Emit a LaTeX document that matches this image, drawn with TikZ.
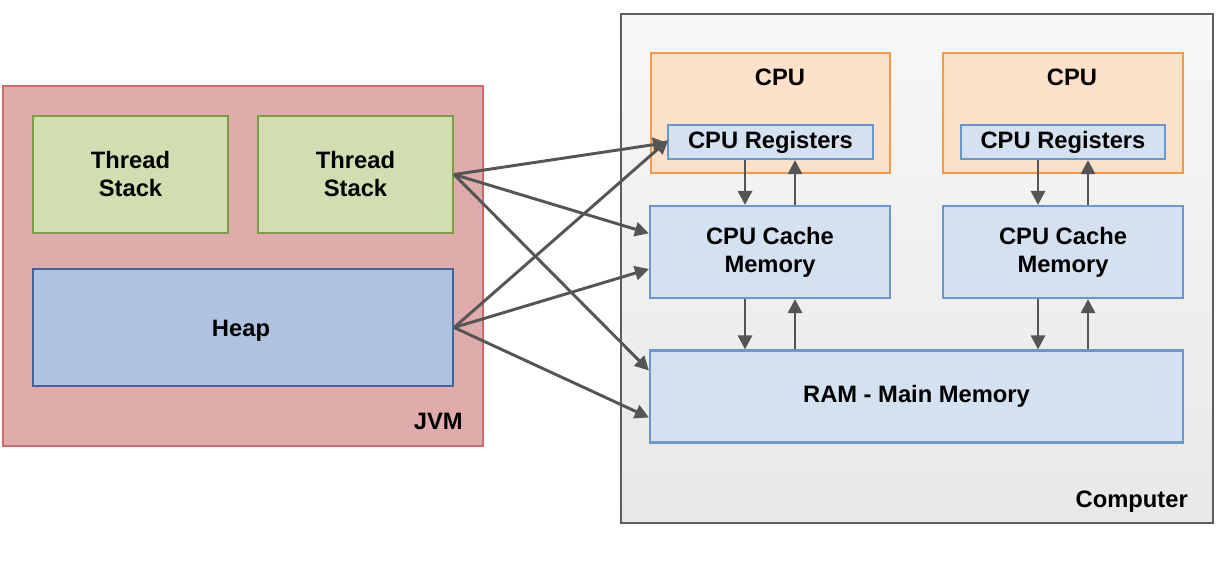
\documentclass[tikz,border=0pt]{standalone}
\usepackage{fontspec}
\setmainfont{Liberation Sans}
\usetikzlibrary{arrows.meta}
\definecolor{jvmfill}{HTML}{E0ABAB}
\definecolor{jvmdraw}{HTML}{CF6A6A}
\definecolor{tsfill}{HTML}{D1DFB0}
\definecolor{tsdraw}{HTML}{7E9B48}
\definecolor{heapfill}{HTML}{ADC3E0}
\definecolor{heapdraw}{HTML}{43669A}
\definecolor{cpufill}{HTML}{FDE1C9}
\definecolor{cpudraw}{HTML}{F7994A}
\definecolor{regfill}{HTML}{D4E1F1}
\definecolor{regdraw}{HTML}{6B97CF}
\definecolor{compdraw}{HTML}{5E5E5E}
\definecolor{arrcol}{HTML}{555555}
\tikzset{
  box/.style={draw, line width=1.6pt, inner sep=0pt, align=center,
    font=\fontsize{17.8}{21}\selectfont\bfseries},
  jvmbox/.style={box, fill=jvmfill, draw=jvmdraw},
  tsbox/.style={box, fill=tsfill, draw=tsdraw},
  heapbox/.style={box, fill=heapfill, draw=heapdraw},
  cpubox/.style={box, fill=cpufill, draw=cpudraw},
  regbox/.style={box, fill=regfill, draw=regdraw},
  compbox/.style={box, top color=white!97!black, bottom color=white!91!black, draw=compdraw, line width=1.9pt},
  lbl/.style={font=\fontsize{17.8}{21}\selectfont\bfseries, inner sep=0pt},
  arr/.style={draw=arrcol, line width=2.2pt, -{Triangle[length=10.5pt,width=10.5pt]}},
}
\begin{document}
\begin{tikzpicture}[x=0.75pt,y=-0.75pt]
\useasboundingbox (0,0) rectangle (1219,568);
% JVM side
\node[jvmbox, minimum width=360pt, minimum height=270pt] (jvm) at (243,266) {};
\node[tsbox, minimum width=146.25pt, minimum height=87.75pt] (ts1) at (130.5,174.5) {Thread\\Stack};
\node[tsbox, minimum width=146.25pt, minimum height=87.75pt] (ts2) at (355.5,174.5) {Thread\\Stack};
\node[heapbox, minimum width=315pt, minimum height=87.75pt] (heap) at (243,327.5) {};
\node[lbl] (heapl) at (241,331) {Heap};
\node[lbl, anchor=east] (jvml) at (463,421) {JVM};
% Computer side
\node[compbox, minimum width=444pt, minimum height=381.75pt] (comp) at (917,268.5) {};
\node[lbl, anchor=east] (compl) at (1188,502) {Computer};
\node[cpubox, minimum width=179.25pt, minimum height=90pt] (cpu1) at (770.5,113) {};
\node[lbl] (cpu1l) at (780,77) {CPU};
\node[regbox, minimum width=153.75pt, minimum height=25.5pt] (reg1) at (770.5,142) {CPU Registers};
\node[cpubox, minimum width=180pt, minimum height=90pt] (cpu2) at (1063,113) {};
\node[lbl] (cpu2l) at (1072,77) {CPU};
\node[regbox, minimum width=153pt, minimum height=25.5pt] (reg2) at (1063,142) {CPU Registers};
\node[regbox, minimum width=180pt, minimum height=69pt] (cache1) at (770,252) {CPU Cache\\Memory};
\node[regbox, minimum width=180pt, minimum height=69pt] (cache2) at (1063,252) {CPU Cache\\Memory};
\node[regbox, minimum width=399.75pt, minimum height=69pt] (ram) at (916.5,396.5) {RAM - Main Memory};
% vertical arrow columns
\coordinate (xa) at (745,0);
\coordinate (xb) at (795,0);
\coordinate (xc) at (1038,0);
\coordinate (xd) at (1088,0);
\draw[arr] (reg1.south -| xa) -- (cache1.north -| xa);
\draw[arr] (cache1.north -| xb) -- (reg1.south -| xb);
\draw[arr] (cache1.south -| xa) -- (ram.north -| xa);
\draw[arr] (ram.north -| xb) -- (cache1.south -| xb);
\draw[arr] (reg2.south -| xc) -- (cache2.north -| xc);
\draw[arr] (cache2.north -| xd) -- (reg2.south -| xd);
\draw[arr] (cache2.south -| xc) -- (ram.north -| xc);
\draw[arr] (ram.north -| xd) -- (cache2.south -| xd);
% diagonal arrows
\draw[arr] (ts2.east) -- ([yshift=-0.5pt]reg1.west);
\draw[arr] (ts2.east) -- ([yshift=14pt]cache1.west);
\draw[arr] (ts2.east) -- ([yshift=19.5pt]ram.west);
\draw[arr] (heap.east) -- ([xshift=1pt,yshift=1.5pt]reg1.west);
\draw[arr] (heap.east) -- ([yshift=-12.75pt]cache1.west);
\draw[arr] (heap.east) -- ([yshift=-15.75pt]ram.west);
\end{tikzpicture}
\end{document}
